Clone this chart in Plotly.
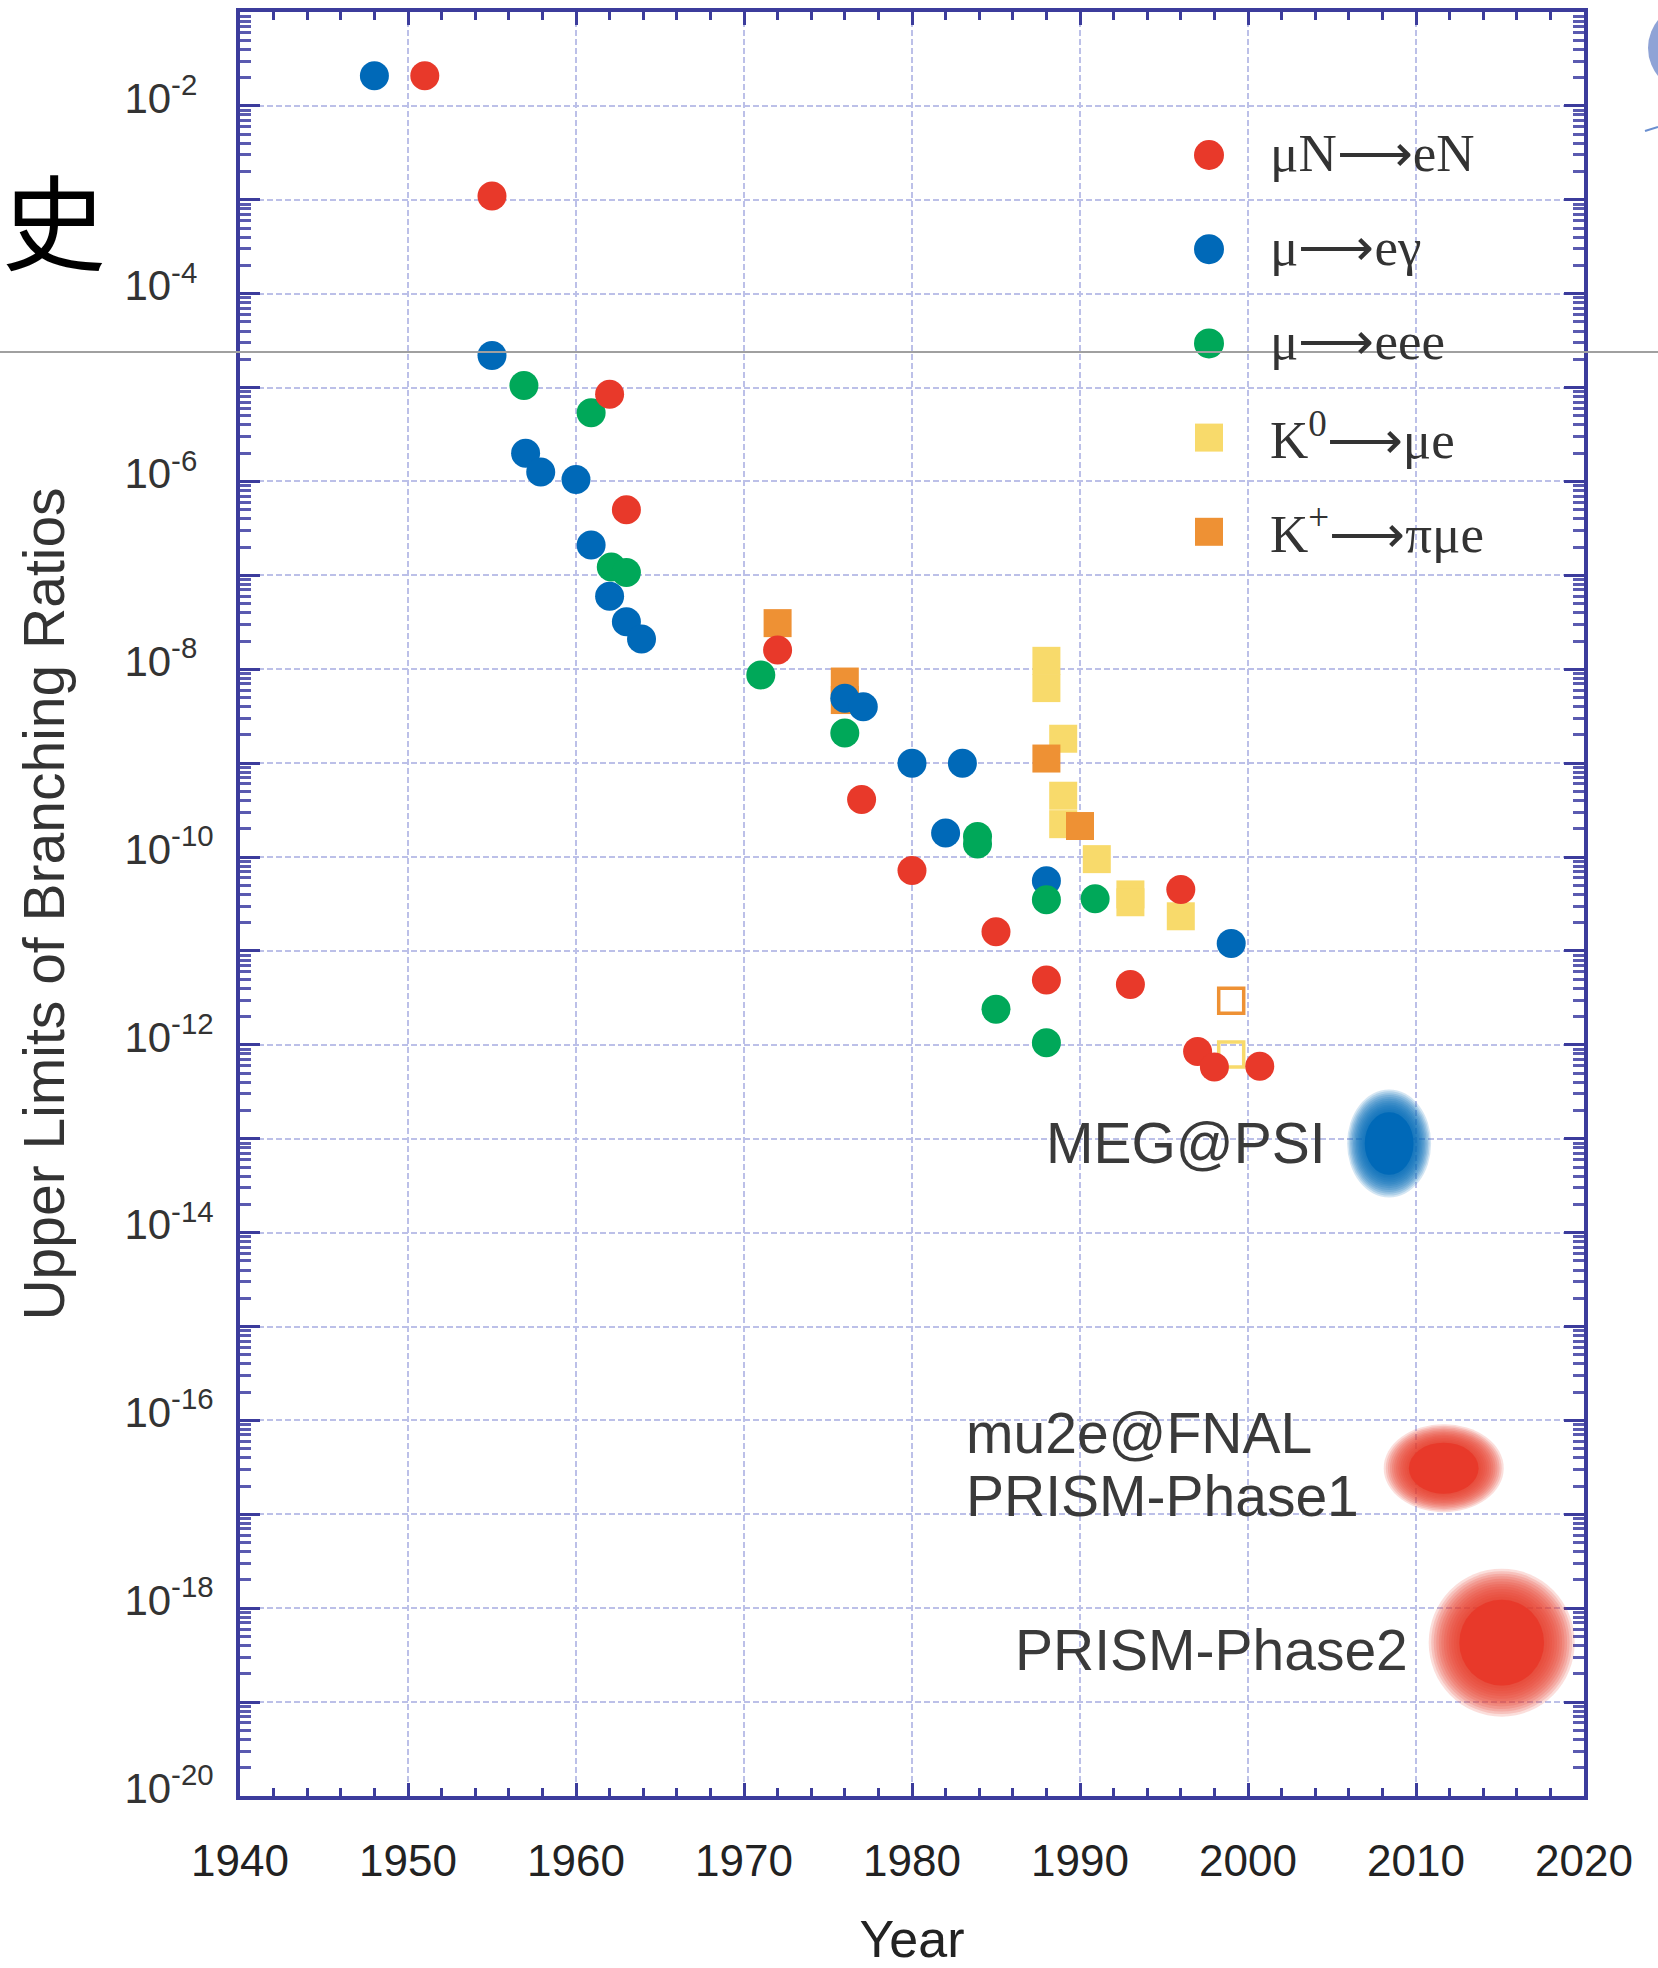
import math
import plotly.graph_objects as go

# ---------------- data ----------------
# mu N -> e N  (red circles)
muN_eN_year = [1951, 1955, 1962, 1963, 1972, 1977, 1980, 1985, 1988, 1993, 1996, 1997, 1998, 2000.7]
muN_eN_br = [2.1e-2, 1.1e-3, 8.5e-6, 5.0e-7, 1.6e-8, 4.1e-10, 7.2e-11, 1.6e-11, 4.9e-12, 4.4e-12,
             4.5e-11, 8.5e-13, 5.8e-13, 5.9e-13]

# mu -> e gamma  (blue circles)
mu_egamma_year = [1948, 1955, 1957, 1957.9, 1960, 1960.9, 1962, 1963, 1963.9, 1976, 1977.1,
                  1980, 1983, 1982, 1988, 1999]
mu_egamma_br = [2.1e-2, 2.2e-5, 2.0e-6, 1.26e-6, 1.05e-6, 2.1e-7, 6.0e-8, 3.2e-8, 2.1e-8, 4.9e-9,
                4.0e-9, 1.0e-9, 1.0e-9, 1.8e-10, 5.6e-11, 1.2e-11]

# mu -> e e e  (green circles)
mu_eee_year = [1956.9, 1960.9, 1962.1, 1963, 1971, 1976, 1983.9, 1983.9, 1988, 1990.9, 1985, 1988]
mu_eee_br = [1.05e-5, 5.4e-6, 1.23e-7, 1.07e-7, 8.7e-9, 2.1e-9, 1.66e-10, 1.38e-10, 3.5e-11,
             3.6e-11, 2.4e-12, 1.05e-12]

# K0 -> mu e  (yellow squares)
K0_mue_year = [1988, 1988, 1989, 1989, 1989, 1991, 1993, 1993, 1996]
K0_mue_br = [1.23e-8, 6.3e-9, 1.82e-9, 4.5e-10, 2.24e-10, 9.5e-11, 4.0e-11, 3.3e-11, 2.34e-11]
K0_mue_open_year = [1999]
K0_mue_open_br = [7.9e-13]

# K+ -> pi mu e  (orange squares)
Kp_pimue_year = [1972, 1976, 1976, 1988, 1990]
Kp_pimue_br = [3.1e-8, 7.4e-9, 4.7e-9, 1.12e-9, 2.14e-10]
Kp_pimue_open_year = [1999]
Kp_pimue_open_br = [2.95e-12]

# future experiments (blurred blobs)
proj_names = ["MEG@PSI", "mu2e@FNAL", "PRISM-Phase2"]
proj_year = [2008.4, 2011.65, 2015.1]
proj_br = [8.9e-14, 3.1e-17, 4.3e-19]

legend_labels = ["\u03bcN\u27f6eN", "\u03bc\u27f6e\u03b3", "\u03bc\u27f6eee",
                 "K<sup>0</sup>\u27f6\u03bce", "K<sup>+</sup>\u27f6\u03c0\u03bce"]

x_tick_years = list(range(1940, 2021, 10))
y_label_exponents = list(range(-2, -21, -2))      # labelled decades
y_plain_exponents = list(range(-1, -20, -2))      # unlabelled decades (grid + tick only)

# ---------------- styles / geometry ----------------
W, H = 1658, 1968
M_L, M_R, M_T, M_B = 240, 74, 12, 172
PLOT_W = W - M_L - M_R
PLOT_H = H - M_T - M_B
PX_PER_YEAR = PLOT_W / 80.0
PX_PER_DEC = PLOT_H / 19.0

RED = "#e8392a"
BLUE = "#0069b8"
GREEN = "#00a859"
YELLOW = "#f8da6b"
ORANGE = "#ee9134"
AXIS = "#3c3c9c"
GRID = "#bcc0e8"
SANS = "Liberation Sans, Arial, sans-serif"

CIRCLE_SIZE = 29
SQUARE_SIZE = 28


def paper_x(px):
    return (px - M_L) / PLOT_W


def paper_y(py):
    return (H - M_B - py) / PLOT_H


fig = go.Figure()

# empty trace so that the overlay axis (odd-decade grid lines) exists
fig.add_trace(go.Scatter(x=[], y=[], yaxis="y2", mode="markers", showlegend=False, hoverinfo="skip"))


def add_points(x, y, name, color, symbol, size, open_marker=False):
    if open_marker:
        marker = dict(symbol=symbol, size=size, color=color, line=dict(color=color, width=3.5))
    else:
        marker = dict(symbol=symbol, size=size, color=color, line=dict(width=0))
    fig.add_trace(go.Scatter(x=x, y=y, mode="markers", name=name, showlegend=False, marker=marker))


add_points(K0_mue_year, K0_mue_br, "K0\u2192\u03bce", YELLOW, "square", SQUARE_SIZE)
add_points(K0_mue_open_year, K0_mue_open_br, "K0\u2192\u03bce (open)", YELLOW, "square-open", 25, True)
add_points(Kp_pimue_year, Kp_pimue_br, "K+\u2192\u03c0\u03bce", ORANGE, "square", SQUARE_SIZE)
add_points(Kp_pimue_open_year, Kp_pimue_open_br, "K+\u2192\u03c0\u03bce (open)", ORANGE, "square-open", 25, True)
add_points(mu_egamma_year, mu_egamma_br, "\u03bc\u2192e\u03b3", BLUE, "circle", CIRCLE_SIZE)
add_points(mu_eee_year, mu_eee_br, "\u03bc\u2192eee", GREEN, "circle", CIRCLE_SIZE)
add_points(muN_eN_year, muN_eN_br, "\u03bcN\u2192eN", RED, "circle", CIRCLE_SIZE)

shapes = []
annotations = []

# ---- blurred blobs for the projected sensitivities ----
blob_colors = [BLUE, RED, RED]
blob_px = [(84, 108), (120, 88), (146, 148)]
N_LAYERS = 14
for yr, br, col, (wpx, hpx) in zip(proj_year, proj_br, blob_colors, blob_px):
    hw = wpx / 2.0 / PX_PER_YEAR
    hh = hpx / 2.0 / PX_PER_DEC
    for k in range(N_LAYERS):
        s = 1.0 - 0.45 * k / (N_LAYERS - 1)
        shapes.append(dict(type="circle", xref="x", yref="y",
                           x0=yr - hw * s, x1=yr + hw * s,
                           y0=br * 10 ** (-hh * s), y1=br * 10 ** (hh * s),
                           fillcolor=col, opacity=0.17, line=dict(width=0), layer="above"))
    s = 0.58
    shapes.append(dict(type="circle", xref="x", yref="y",
                       x0=yr - hw * s, x1=yr + hw * s,
                       y0=br * 10 ** (-hh * s), y1=br * 10 ** (hh * s),
                       fillcolor=col, opacity=1.0, line=dict(width=0), layer="above"))

# ---- labels of the projected experiments (log10 y for annotations) ----
label_font = dict(family=SANS, size=57, color="#3a3a3a")
annotations.append(dict(text="MEG@PSI", x=2004.74, y=math.log10(proj_br[0]), xref="x", yref="y",
                        xanchor="right", yanchor="middle", showarrow=False, font=label_font))
annotations.append(dict(text="mu2e@FNAL", x=1983.1, y=-16.13, xref="x", yref="y",
                        xanchor="left", yanchor="middle", showarrow=False, font=label_font))
annotations.append(dict(text="PRISM-Phase1", x=1983.1, y=-16.81, xref="x", yref="y",
                        xanchor="left", yanchor="middle", showarrow=False, font=label_font))
annotations.append(dict(text="PRISM-Phase2", x=2009.64, y=-18.44, xref="x", yref="y",
                        xanchor="right", yanchor="middle", showarrow=False, font=label_font))

# ---- manual legend (large symbols, serif text) ----
legend_colors = [RED, BLUE, GREEN, YELLOW, ORANGE]
legend_kinds = ["circle", "circle", "circle", "square", "square"]
row0, row_step = 155, 94.2
for i, (lab, col, kind) in enumerate(zip(legend_labels, legend_colors, legend_kinds)):
    cy = row0 + i * row_step
    cx = 1209
    r = 15 if kind == "circle" else 14
    shapes.append(dict(type="circle" if kind == "circle" else "rect", xref="paper", yref="paper",
                       x0=paper_x(cx - r), x1=paper_x(cx + r),
                       y0=paper_y(cy + r), y1=paper_y(cy - r),
                       fillcolor=col, line=dict(width=0), layer="above"))
    annotations.append(dict(text=lab, x=paper_x(1268), y=paper_y(cy - 2), xref="paper", yref="paper",
                            xanchor="left", yanchor="middle", showarrow=False,
                            font=dict(family="Liberation Serif, Times New Roman, serif", size=53,
                                      color="#333333")))

# ---- slide decorations around the chart ----
annotations.append(dict(text="\u53f2", x=paper_x(54), y=paper_y(218), xref="paper", yref="paper",
                        xanchor="center", yanchor="middle", showarrow=False,
                        font=dict(family="Noto Sans CJK SC", size=104, color="#000000")))
shapes.append(dict(type="line", xref="paper", yref="paper", x0=paper_x(0), x1=paper_x(W),
                   y0=paper_y(352), y1=paper_y(352), line=dict(color="#a0a0a0", width=2), layer="above"))
shapes.append(dict(type="circle", xref="paper", yref="paper", x0=paper_x(1648), x1=paper_x(1736),
                   y0=paper_y(92), y1=paper_y(4), fillcolor="#8fa3d6", line=dict(width=0), layer="above"))
shapes.append(dict(type="line", xref="paper", yref="paper", x0=paper_x(1645), x1=paper_x(1658),
                   y0=paper_y(131), y1=paper_y(127), line=dict(color="#6a8fd0", width=2), layer="above"))

# ---- axes ----
y_tickvals = [10.0 ** e for e in y_label_exponents]
y_ticktext = ["10<sup>%d%s</sup>" % (e, "\u2007" if e > -10 else "") for e in y_label_exponents]
y_plain_vals = [10.0 ** e for e in y_plain_exponents]
y_minor = [m * 10.0 ** e for e in range(-20, -1) for m in range(2, 10)]

fig.update_layout(
    width=W, height=H,
    margin=dict(l=M_L, r=M_R, t=M_T, b=M_B),
    paper_bgcolor="white", plot_bgcolor="white",
    shapes=shapes, annotations=annotations,
    showlegend=False,
    xaxis=dict(
        range=[1940, 2020], tickmode="array", tickvals=x_tick_years,
        ticks="inside", ticklen=13, tickwidth=3, tickcolor=AXIS,
        showline=True, linewidth=4, linecolor=AXIS, mirror="ticks",
        showgrid=True, gridcolor=GRID, gridwidth=2, griddash="6px,3px", zeroline=False,
        minor=dict(dtick=2, tick0=1940, ticks="inside", ticklen=8, tickwidth=3, tickcolor=AXIS,
                   showgrid=False),
        tickfont=dict(family=SANS, size=44, color="#222222"),
        ticklabelstandoff=23,
        title=dict(text="Year", standoff=45, font=dict(family=SANS, size=52, color="#222222")),
        automargin=False,
    ),
    yaxis=dict(
        type="log", range=[-20, -1], tickmode="array", tickvals=y_tickvals, ticktext=y_ticktext,
        ticks="inside", ticklen=20, tickwidth=3, tickcolor=AXIS,
        showline=True, linewidth=4, linecolor=AXIS, mirror="ticks",
        showgrid=True, gridcolor=GRID, gridwidth=2, griddash="6px,3px", zeroline=False,
        minor=dict(tickmode="array", tickvals=y_minor, ticks="inside", ticklen=11, tickwidth=3,
                   tickcolor="#5a5ab0", showgrid=False),
        tickfont=dict(family=SANS, size=42, color="#333333"),
        ticklabelstandoff=14, ticklabelshift=-8,
        title=dict(text="Upper Limits of Branching Ratios", standoff=42,
                   font=dict(family=SANS, size=57, color="#333333")),
        automargin=False,
    ),
    yaxis2=dict(
        type="log", range=[-20, -1], overlaying="y", side="left", anchor="x",
        tickmode="array", tickvals=y_plain_vals, showticklabels=False,
        ticks="inside", ticklen=20, tickwidth=3, tickcolor=AXIS,
        showline=True, linewidth=4, linecolor=AXIS, mirror="ticks",
        showgrid=True, gridcolor=GRID, gridwidth=2, griddash="6px,3px", zeroline=False,
        automargin=False,
    ),
)

fig.write_html("out.html")
